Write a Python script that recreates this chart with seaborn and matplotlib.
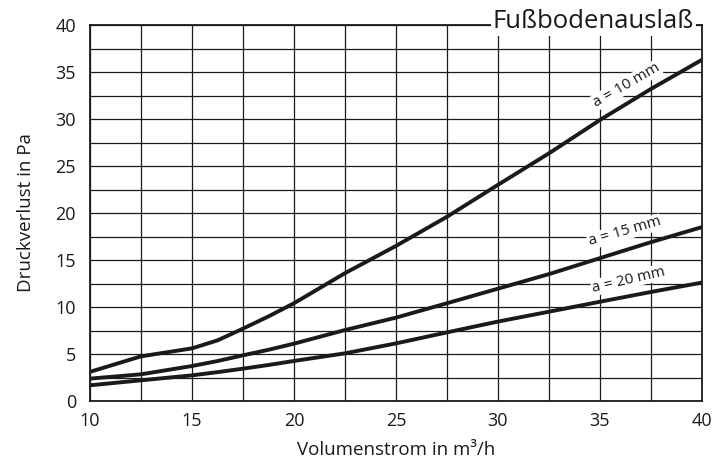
import matplotlib
matplotlib.use("Agg")
import matplotlib.pyplot as plt
import pandas as pd
import seaborn as sns

volumenstrom = [10, 12.5, 15, 16.25, 17.5, 18.75, 20, 22.5, 25, 27.5, 30, 32.5, 35, 37.5, 40]
druck_a10 = [3.1, 4.75, 5.6, 6.45, 7.7, 9.0, 10.4, 13.6, 16.5, 19.6, 23.0, 26.35, 29.9, 33.2, 36.3]
druck_a15 = [2.38, 2.84, 3.72, 4.25, 4.86, 5.45, 6.1, 7.55, 8.87, 10.4, 11.95, 13.5, 15.2, 16.9, 18.5]
druck_a20 = [1.67, 2.2, 2.73, 3.07, 3.44, 3.83, 4.26, 5.07, 6.13, 7.3, 8.45, 9.5, 10.56, 11.6, 12.6]
series_names = ["a = 10 mm", "a = 15 mm", "a = 20 mm"]

df = pd.DataFrame({
    "x": volumenstrom * 3,
    "y": druck_a10 + druck_a15 + druck_a20,
    "serie": [n for n in series_names for _ in volumenstrom],
})

sns.set_style("white")
plt.rcParams["font.family"] = ["Open Sans", "DejaVu Sans"]

fig = plt.figure(figsize=(7.18, 4.63), dpi=100)
ax = fig.add_axes([90 / 718, 62 / 463, 612 / 718, 376 / 463])

sns.lineplot(data=df, x="x", y="y", hue="serie", palette=["#1a1a1a"] * 3,
             linewidth=2.8, legend=False, ax=ax, zorder=3)

ax.set_xlim(10, 40)
ax.set_ylim(0, 40)
ax.set_xticks([10, 15, 20, 25, 30, 35, 40])
ax.set_yticks(range(0, 41, 5))
ax.set_xticks([x + 2.5 for x in range(10, 40, 5)], minor=True)
ax.set_yticks([y + 2.5 for y in range(0, 40, 5)], minor=True)
ax.grid(True, which="both", color="#1a1a1a", linewidth=0.9)
ax.tick_params(axis="both", which="both", length=0, labelsize=13, colors="#1a1a1a")
ax.tick_params(axis="x", pad=8)
ax.tick_params(axis="y", pad=10)
for s in ax.spines.values():
    s.set_color("#1a1a1a")
    s.set_linewidth(1.3)

ax.set_xlabel("Volumenstrom in m³/h", fontsize=13.5, color="#1a1a1a", labelpad=8)
ax.set_ylabel("Druckverlust in Pa", fontsize=13.5, color="#1a1a1a", labelpad=15)

ax.text(39.6, 40.4, "Fußbodenauslaß", fontsize=18.5, ha="right", va="center",
        color="#1a1a1a", bbox=dict(facecolor="white", edgecolor="none", pad=1.5), zorder=5)

label_kw = dict(fontsize=11, color="#1a1a1a", ha="center", va="center", rotation_mode="anchor",
                bbox=dict(facecolor="white", edgecolor="none", pad=0.5), zorder=4)
ax.text(36.3, 33.6, series_names[0], rotation=30, **label_kw)
ax.text(36.2, 18.0, series_names[1], rotation=16, **label_kw)
ax.text(36.4, 12.9, series_names[2], rotation=13, **label_kw)

fig.savefig("out.png", dpi=100)
